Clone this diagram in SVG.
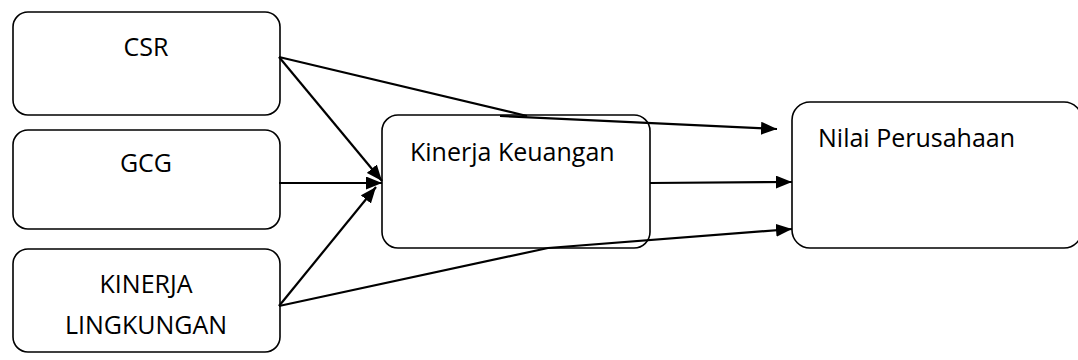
<svg xmlns="http://www.w3.org/2000/svg" width="1078" height="360" viewBox="0 0 1078 360">
<style>
.box{fill:#fff;stroke:#000;stroke-width:1.6}
.t{font-family:"Open Sans","Noto Sans",sans-serif;font-size:25px;fill:#000}
.c{text-anchor:middle}
.ln{fill:none;stroke:#000;stroke-width:2.2}
</style>
<defs>
<marker id="ah" viewBox="0 0 16 13" refX="16" refY="6.5" markerWidth="16" markerHeight="13" markerUnits="userSpaceOnUse" orient="auto">
<path d="M0,0 L16,6.5 L0,13 Z" fill="#000"/>
</marker>
</defs>
<g id="csr"><rect class="box" x="13" y="12" width="267" height="103" rx="15"/><text class="t c" x="146" y="56">CSR</text></g>
<g id="gcg"><rect class="box" x="13" y="130" width="267" height="99" rx="15"/><text class="t c" x="146" y="172">GCG</text></g>
<g id="kinerja-lingkungan"><rect class="box" x="13" y="249" width="267" height="103" rx="15"/><text class="t c" x="146" y="293">KINERJA</text><text class="t c" x="146" y="334">LINGKUNGAN</text></g>
<g id="kinerja-keuangan"><rect class="box" x="382" y="115" width="268" height="133" rx="16"/><text class="t" x="410" y="161">Kinerja Keuangan</text></g>
<g id="nilai-perusahaan"><rect class="box" x="792" y="102" width="290" height="146" rx="18"/><text class="t" x="818" y="147">Nilai Perusahaan</text></g>
<g id="connectors">
<line class="ln" x1="279" y1="57" x2="382" y2="181" marker-end="url(#ah)"/>
<line class="ln" x1="279" y1="183" x2="382" y2="183" marker-end="url(#ah)"/>
<line class="ln" x1="279" y1="306" x2="376" y2="187" marker-end="url(#ah)"/>
<polyline class="ln" points="279,57 527,116"/>
<line class="ln" x1="500" y1="116" x2="777" y2="129" marker-end="url(#ah)"/>
<line class="ln" x1="650" y1="183" x2="792" y2="182" marker-end="url(#ah)"/>
<polyline class="ln" points="279,306 548,248 792,229" marker-end="url(#ah)"/>
</g>
</svg>
